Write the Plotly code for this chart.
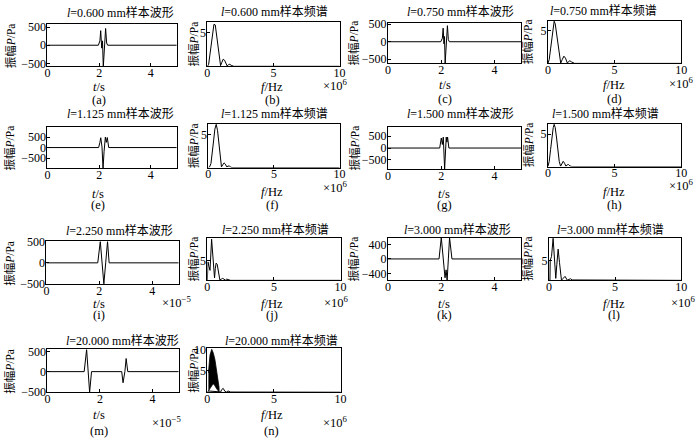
import plotly.graph_objects as go

W, H = 700, 443
SERIF = "Liberation Serif, Times New Roman, Noto Sans CJK SC, serif"

# ---------------- sample waveforms (t: 1e-5 s, P: Pa) ----------------
t_a = [0, 1.97, 2.03, 2.06, 2.10, 2.13, 2.16, 2.20, 2.25, 2.29, 2.33, 5]
p_a = [0, 0, 120, 400, -80, 120, -600, -100, 460, 60, 0, 0]

t_c = [0, 1.98, 2.04, 2.07, 2.10, 2.12, 2.145, 2.18, 2.23, 2.265, 2.30, 5]
p_c = [0, 0, 100, 390, -60, 150, -620, -100, 460, 60, 0, 0]

t_e = [0, 1.98, 2.03, 2.062, 2.11, 2.15, 2.19, 2.24, 2.277, 2.315, 2.37, 5]
p_e = [0, 0, 250, 470, 30, -1000, -200, 500, 250, 480, 0, 0]

t_g = [0, 1.94, 2.0, 2.04, 2.075, 2.125, 2.186, 2.21, 2.236, 2.285, 5]
p_g = [0, 0, 420, 150, 460, -880, 460, 250, 460, 0, 0]

t_i = [0, 1.94, 2.036, 2.10, 2.17, 2.24, 2.31, 2.37, 5]
p_i = [0, 0, 520, 0, -510, 0, 520, 0, 0]

t_k = [0, 1.915, 2.0, 2.088, 2.14, 2.18, 2.22, 2.265, 2.31, 2.40, 5]
p_k = [0, 0, 590, 0, -520, -300, -590, 0, 590, 0, 0]

t_m = [0, 1.40, 1.493, 1.55, 1.607, 1.68, 2.83, 2.88, 2.95, 2.998, 3.06, 5]
p_m = [0, 0, 560, 0, -520, 0, 0, -280, 0, 330, 0, 0]

# ---------------- sample spectra (f: 1e6 Hz, amplitude: Pa) ----------------
f_b = [0, 0.1, 0.2, 0.3, 0.4, 0.5, 0.6, 0.7, 0.8, 0.9, 1.0, 1.1, 1.2, 1.3, 1.4, 1.5, 1.6, 1.7, 1.8, 1.9, 2.0, 10]
A_b = [0, 0.3, 1.8, 3.4, 5.0, 6.2, 6.1, 4.6, 2.8, 1.0, 0.1, 0.6, 1.05, 0.9, 0.4, 0.05, 0.25, 0.3, 0.15, 0.02, 0, 0]

f_d = [0, 0.1, 0.2, 0.3, 0.4, 0.47, 0.55, 0.65, 0.75, 0.85, 0.96, 1.08, 1.2, 1.32, 1.46, 1.56, 1.65, 1.75, 1.9, 2.0, 10]
A_d = [0, 0.6, 2.2, 4.0, 5.8, 6.4, 6.0, 4.5, 2.7, 1.0, 0.05, 0.6, 1.1, 0.8, 0.05, 0.3, 0.4, 0.25, 0.02, 0, 0]

f_f = [0, 0.1, 0.2, 0.3, 0.4, 0.5, 0.6, 0.7, 0.8, 0.9, 1.0, 1.1, 1.2, 1.3, 1.4, 1.5, 1.6, 1.7, 1.8, 10]
A_f = [0, 0.1, 0.6, 2.0, 4.0, 5.8, 6.5, 5.6, 3.4, 1.2, 0.1, 0.4, 0.7, 0.5, 0.1, 0.2, 0.25, 0.05, 0, 0]

f_h = [0, 0.1, 0.2, 0.3, 0.4, 0.47, 0.55, 0.65, 0.75, 0.85, 0.95, 1.05, 1.15, 1.25, 1.35, 1.45, 1.55, 1.65, 1.8, 10]
A_h = [0, 0.8, 2.6, 4.6, 6.0, 6.5, 6.0, 4.4, 2.4, 0.8, 0.05, 0.5, 0.8, 0.5, 0.05, 0.25, 0.3, 0.1, 0, 0]

f_j = [0, 0.05, 0.12, 0.2, 0.32, 0.42, 0.54, 0.6, 0.66, 0.74, 0.82, 0.94, 1.05, 1.15, 1.25, 1.35, 1.45, 1.55, 1.65, 1.75, 10]
A_j = [0, 4.6, 3.5, 2.5, 10.3, 5.5, 0.6, 3.0, 4.3, 4.0, 2.0, 0.1, 0.3, 0.5, 0.3, 0.05, 0.3, 0.2, 0.05, 0, 0]

f_l = [0, 0.08, 0.1, 0.2, 0.32, 0.42, 0.52, 0.6, 0.7, 0.8, 0.95, 1.08, 1.22, 1.39, 1.52, 1.64, 1.76, 1.89, 2.0, 10]
A_l = [0, 0, 5.0, 6.0, 10.5, 5.0, 0.5, 4.0, 7.8, 4.5, 0.05, 0.5, 1.0, 0.05, 0.2, 0.4, 0.1, 0.1, 0, 0]

# l = 20 mm: densely oscillating spectrum, given by its envelope
f_n_env = [0.08, 0.2, 0.33, 0.45, 0.57, 0.70, 0.82, 0.88]
A_n_up = [4.5, 8.7, 10.0, 9.1, 7.6, 5.3, 2.7, 1.1]
A_n_lo = [0.3, 0.8, 1.5, 2.0, 1.5, 0.8, 0.3, 0.1]
f_n = [0, 0.08, 0.88, 1.0, 1.07, 1.19, 1.32, 1.45, 1.55, 1.65, 1.75, 10]
A_n = [0, 0.3, 0.1, 0.05, 0.6, 0.9, 0.2, 0.05, 0.3, 0.2, 0.05, 0]

LABELS = ["0.600", "0.750", "1.125", "1.500", "2.250", "3.000", "20.000"]

# ---------------- panel placement (pixel boxes) ----------------
# box = (x0, y0, x1, y1); title=(x, y); ylab=x; xlab=(x, y); let=y; exp=(x, y) or None
panels = [
    dict(kind="w", l=LABELS[0], x=t_a, y=p_a, box=(45, 19, 176, 62), yr=(-580, 570),
         yt=[-500, 0, 500], title=(119, 7), ylab=7, xlab=(97, 83), let=("(a)", 97), exp=None),
    dict(kind="s", l=LABELS[0], x=f_b, y=A_b, box=(207, 16, 341, 62), yr=(0, 6.6),
         yt=[5], title=(275, 6), ylab=193, xlab=(273, 83), let=("(b)", 97), exp=(322, 81)),
    dict(kind="w", l=LABELS[1], x=t_c, y=p_c, box=(390, 17, 525, 59), yr=(-620, 550),
         yt=[-500, 0, 500], title=(463, 6), ylab=356, xlab=(448, 81), let=("(c)", 96), exp=None),
    dict(kind="s", l=LABELS[1], x=f_d, y=A_d, box=(552, 15, 687, 59), yr=(0, 6.5),
         yt=[5], title=(608, 5), ylab=532, xlab=(619, 81), let=("(d)", 96), exp=(673, 79)),

    dict(kind="w", l=LABELS[2], x=t_e, y=p_e, box=(45, 124, 176, 167), yr=(-1000, 1000),
         yt=[-500, 0, 500], title=(119, 111), ylab=7, xlab=(96, 193), let=("(e)", 205), exp=None),
    dict(kind="s", l=LABELS[2], x=f_f, y=A_f, box=(208, 121, 341, 166), yr=(0, 6.6),
         yt=[5], title=(275, 111), ylab=193, xlab=(273, 191), let=("(f)", 205), exp=(322, 186)),
    dict(kind="w", l=LABELS[3], x=t_g, y=p_g, box=(390, 124, 525, 168), yr=(-900, 900),
         yt=[-500, 0, 500], title=(463, 111), ylab=356, xlab=(447, 193), let=("(g)", 205), exp=None),
    dict(kind="s", l=LABELS[3], x=f_h, y=A_h, box=(552, 121, 687, 165), yr=(0, 6.6),
         yt=[5], title=(610, 111), ylab=532, xlab=(619, 191), let=("(h)", 205), exp=(673, 184)),

    dict(kind="w", l=LABELS[4], x=t_i, y=p_i, box=(44, 242, 178, 286), yr=(-520, 520),
         yt=[-500, 0, 500], title=(118, 231), ylab=7, xlab=(97, 306), let=("(i)", 318), exp=(159, 304)),
    dict(kind="s", l=LABELS[4], x=f_j, y=A_j, box=(207, 238, 342, 282), yr=(0, 10.7),
         yt=[5], title=(276, 230), ylab=193, xlab=(273, 306), let=("(j)", 318), exp=(323, 304)),
    dict(kind="w", l=LABELS[5], x=t_k, y=p_k, box=(390, 238, 525, 282), yr=(-590, 590),
         yt=[-400, 0, 400], title=(460, 230), ylab=356, xlab=(447, 306), let=("(k)", 318), exp=None),
    dict(kind="s", l=LABELS[5], x=f_l, y=A_l, box=(553, 238, 687, 282), yr=(0, 10.7),
         yt=[5], title=(615, 230), ylab=532, xlab=(619, 306), let=("(l)", 318), exp=(675, 304)),

    dict(kind="w", l=LABELS[6], x=t_m, y=p_m, box=(45, 353, 178, 397), yr=(-520, 560),
         yt=[-500, 0, 500], title=(121, 344), ylab=7, xlab=(97, 420), let=("(m)", 437), exp=(149, 428)),
    dict(kind="s", l=LABELS[6], x=f_n, y=A_n, box=(207, 352, 342, 397), yr=(0, 10.2),
         yt=[5, 10], title=(282, 344), ylab=193, xlab=(272, 420), let=("(n)", 437), exp=(322, 428)),
]


def fx(px):
    return px / W


def fy(py):
    return 1 - py / H


def fmt(v):
    return ("\u2212" + str(-v)) if v < 0 else str(v)


fig = go.Figure()
annotations = []
layout_axes = {}

for i, pn in enumerate(panels, start=1):
    xa = "x" if i == 1 else f"x{i}"
    ya = "y" if i == 1 else f"y{i}"
    x0, y0, x1, y1 = pn["box"]

    if pn["kind"] == "s" and pn["l"] == LABELS[6]:
        # filled envelope of the densely oscillating part
        fig.add_trace(go.Scatter(
            x=f_n_env + f_n_env[::-1], y=A_n_up + A_n_lo[::-1],
            fill="toself", fillcolor="black", mode="lines",
            line=dict(color="black", width=0.8), xaxis=xa, yaxis=ya,
            showlegend=False, hoverinfo="skip"))

    fig.add_trace(go.Scatter(
        x=pn["x"], y=pn["y"], mode="lines",
        line=dict(color="black", width=1), xaxis=xa, yaxis=ya,
        showlegend=False))

    is_wave = pn["kind"] == "w"
    xr = [0, 5] if is_wave else [0, 10]
    xt = [0, 2, 4] if is_wave else [0, 5, 10]
    common = dict(showline=True, mirror=True, linecolor="black", linewidth=1,
                  ticks="inside", ticklen=3, tickcolor="black", tickwidth=1,
                  showgrid=False, zeroline=False,
                  tickfont=dict(family=SERIF, size=12, color="black"))
    layout_axes["xaxis" if i == 1 else f"xaxis{i}"] = dict(
        domain=[fx(x0), fx(x1)], range=xr, tickvals=xt, ticktext=[str(v) for v in xt],
        anchor=ya, ticklabelstandoff=-5, **common)
    layout_axes["yaxis" if i == 1 else f"yaxis{i}"] = dict(
        domain=[fy(y1), fy(y0)], range=list(pn["yr"]), tickvals=pn["yt"],
        ticktext=[fmt(v) for v in pn["yt"]], anchor=xa, ticklabelstandoff=-2, **common)

    def ann(text, x, y, size=12, xanchor="center", angle=0):
        annotations.append(dict(
            text=text, x=fx(x), y=fy(y), xref="paper", yref="paper",
            xanchor=xanchor, yanchor="middle", showarrow=False, textangle=angle,
            font=dict(family=SERIF, size=size, color="black")))

    kind_txt = "样本波形" if is_wave else "样本频谱"
    ann(f"<i>l</i>={pn['l']} mm{kind_txt}", pn["title"][0], pn["title"][1], size=12)
    ann("振幅<i>P</i>/Pa", pn["ylab"], (y0 + y1) / 2, size=11.5, angle=-90)
    ann("<i>t</i>/s" if is_wave else "<i>f</i>/Hz", pn["xlab"][0], pn["xlab"][1], size=12.5)
    ann(pn["let"][0], pn["xlab"][0], pn["let"][1], size=12.5)
    if pn["exp"] is not None:
        ann("×10<sup>\u22125</sup>" if is_wave else "×10<sup>6</sup>",
            pn["exp"][0], pn["exp"][1], size=12.5, xanchor="left")

fig.update_layout(
    width=W, height=H, margin=dict(l=0, r=0, t=0, b=0),
    paper_bgcolor="white", plot_bgcolor="white",
    annotations=annotations, **layout_axes)

fig.write_html("out.html")
